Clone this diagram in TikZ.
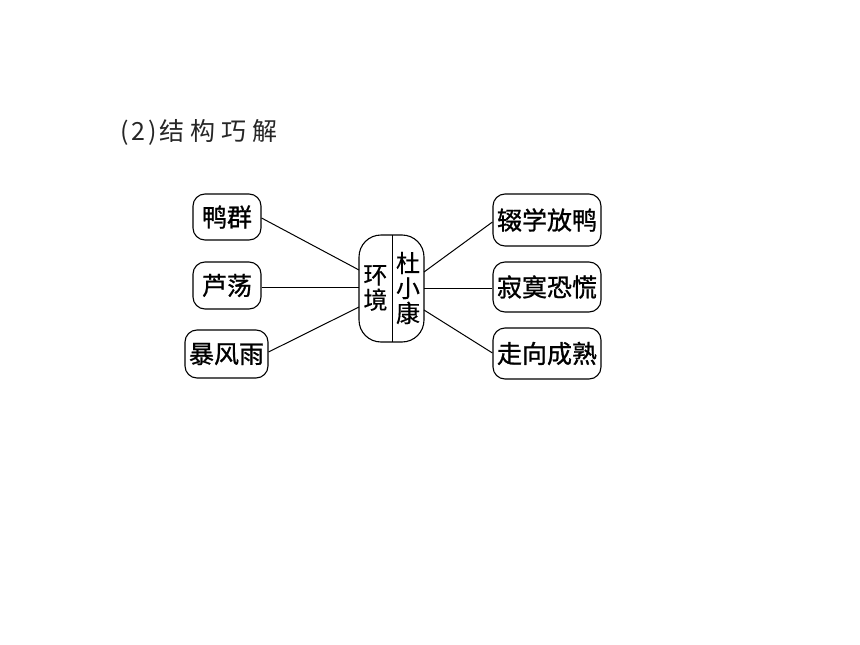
\documentclass[tikz,border=0pt]{standalone}
\usepackage{fontspec}
\setmainfont{Noto Sans CJK SC}
\newfontfamily\cjk{Noto Sans CJK SC}
\newfontfamily\cjkm[FakeBold=1]{Noto Sans CJK SC}
\newfontfamily\cjkc[FakeBold=0.4]{Noto Sans CJK SC}
\begin{document}
\begin{tikzpicture}[x=1pt,y=-1pt,
  leaf/.style={draw=black,line width=1.1pt,rounded corners=12pt,inner sep=0pt,font=\fontsize{25}{28}\selectfont\cjkm},
  link/.style={draw=black,line width=1pt}]
\useasboundingbox[fill=white] (0,0) rectangle (860,645);
\node[anchor=west,font=\fontsize{25}{28}\selectfont\cjk,text=black!85] (title) at (117,132) {(\hspace{3pt}2\hspace{3pt})\hspace{2pt}结\hspace{6pt}构\hspace{6pt}巧\hspace{6pt}解};
% left
\node[leaf,minimum width=68pt,minimum height=46pt] (a1) at (227,217) {鸭群};
\node[leaf,minimum width=68pt,minimum height=47pt] (a2) at (227,285.5) {芦荡};
\node[leaf,minimum width=83pt,minimum height=48pt] (a3) at (226.5,354) {暴风雨};
% right
\node[leaf,minimum width=108pt,minimum height=52pt] (b1) at (547,220) {辍学放鸭};
\node[leaf,minimum width=108pt,minimum height=50pt] (b2) at (547,287) {寂寞恐慌};
\node[leaf,minimum width=108pt,minimum height=51pt] (b3) at (547,353.5) {走向成熟};
% center
\node[draw=black,line width=1.1pt,rounded corners=22pt,minimum width=65pt,minimum height=107pt,inner sep=0pt] (c) at (391.5,288.5) {};
\coordinate (ct) at (392,235);
\coordinate (cb) at (392,342);
\draw[line width=1pt] (ct) -- (cb);
\node[font=\fontsize{24}{25}\selectfont\cjkc,align=center,inner sep=0pt] (env) at (375.5,288) {环\\境};
\node[font=\fontsize{24}{25}\selectfont\cjkc,align=center,inner sep=0pt] (du) at (408,288) {杜\\小\\康};
% links
\coordinate (l1) at (359,270);
\coordinate (l2) at (359,287);
\coordinate (l3) at (359,307);
\coordinate (r1) at (424,272);
\coordinate (r2) at (424,288);
\coordinate (r3) at (424,310);
\draw[link] (a1.east |- 0,218) -- (l1);
\draw[link] (a2.east |- 0,287) -- (l2);
\draw[link] (a3.east |- 0,352) -- (l3);
\draw[link] (r1) -- (b1.west |- 0,222);
\draw[link] (r2) -- (b2.west |- 0,288);
\draw[link] (r3) -- (b3.west |- 0,353);
\end{tikzpicture}
\end{document}
